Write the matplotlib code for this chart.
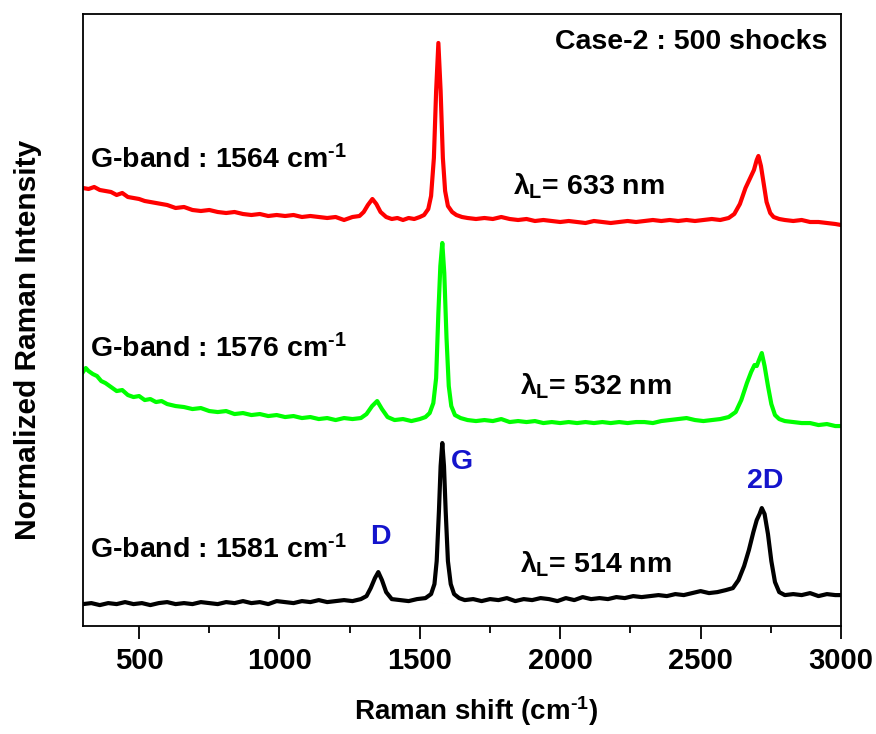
import matplotlib
matplotlib.use("Agg")
import matplotlib.pyplot as plt
from matplotlib.ticker import MultipleLocator

plt.rcParams['font.family'] = ['Liberation Sans', 'DejaVu Sans']
plt.rcParams['font.weight'] = 'bold'
plt.rcParams['mathtext.fontset'] = 'custom'
plt.rcParams['mathtext.rm'] = 'Liberation Sans:bold'
plt.rcParams['mathtext.it'] = 'Liberation Sans:bold'
plt.rcParams['mathtext.bf'] = 'Liberation Sans:bold'

# ------------------------------------------
# Spectra (normalized, a.u.)
# ------------------------------------------

# 633 nm (red)
shift_633 = [300, 320, 340, 360, 380, 400, 420, 440, 460, 480,
             500, 520, 540, 560, 580, 600, 630, 660, 690, 720,
             750, 780, 810, 840, 870, 900, 930, 960, 990, 1020,
             1050, 1080, 1110, 1140, 1170, 1200, 1230, 1260, 1285, 1300,
             1315, 1331, 1345, 1360, 1380, 1400, 1420, 1440, 1460, 1480,
             1500, 1515, 1530, 1540, 1550, 1558, 1566, 1574, 1582, 1590,
             1600, 1615, 1630, 1650, 1670, 1700, 1730, 1760, 1790, 1820,
             1850, 1880, 1910, 1940, 1970, 2000, 2030, 2060, 2090, 2120,
             2150, 2180, 2210, 2240, 2270, 2300, 2330, 2360, 2390, 2420,
             2450, 2480, 2510, 2540, 2570, 2600, 2620, 2640, 2660, 2675,
             2690, 2700, 2706, 2715, 2725, 2735, 2748, 2760, 2780, 2800,
             2830, 2860, 2890, 2920, 2950, 2980, 3000]
int_633 = [0.38, 0.37, 0.39, 0.36, 0.35, 0.34, 0.31, 0.33, 0.29, 0.28,
           0.27, 0.25, 0.24, 0.23, 0.22, 0.21, 0.18, 0.19, 0.16, 0.15,
           0.16, 0.14, 0.13, 0.14, 0.12, 0.11, 0.12, 0.10, 0.11, 0.10,
           0.11, 0.09, 0.10, 0.09, 0.08, 0.09, 0.06, 0.09, 0.10, 0.14,
           0.21, 0.27, 0.22, 0.14, 0.09, 0.07, 0.08, 0.06, 0.08, 0.07,
           0.09, 0.11, 0.17, 0.30, 0.68, 1.35, 1.83, 1.35, 0.68, 0.35,
           0.20, 0.14, 0.11, 0.09, 0.08, 0.07, 0.08, 0.07, 0.09, 0.07,
           0.06, 0.07, 0.05, 0.06, 0.05, 0.04, 0.05, 0.04, 0.03, 0.05,
           0.04, 0.03, 0.04, 0.05, 0.04, 0.05, 0.06, 0.05, 0.06, 0.05,
           0.06, 0.05, 0.06, 0.07, 0.06, 0.08, 0.12, 0.22, 0.38, 0.47,
           0.56, 0.66, 0.70, 0.60, 0.42, 0.24, 0.13, 0.09, 0.07, 0.06,
           0.05, 0.06, 0.04, 0.04, 0.03, 0.02, 0.01]

# 532 nm (green)
shift_532 = [300, 310, 320, 335, 350, 365, 380, 400, 420, 440,
             460, 480, 500, 520, 540, 560, 580, 600, 630, 660,
             690, 720, 750, 780, 810, 840, 870, 900, 930, 960,
             990, 1020, 1050, 1080, 1110, 1140, 1170, 1200, 1230, 1260,
             1290, 1310, 1330, 1348, 1365, 1385, 1410, 1440, 1470, 1500,
             1520, 1535, 1548, 1558, 1566, 1573, 1580, 1587, 1595, 1603,
             1612, 1625, 1645, 1670, 1700, 1730, 1760, 1790, 1820, 1850,
             1880, 1910, 1940, 1970, 2000, 2030, 2060, 2090, 2120, 2150,
             2180, 2210, 2240, 2270, 2300, 2330, 2360, 2390, 2420, 2450,
             2480, 2510, 2540, 2570, 2600, 2625, 2645, 2665, 2680, 2692,
             2700, 2708, 2718, 2728, 2740, 2752, 2765, 2780, 2800, 2830,
             2860, 2890, 2920, 2950, 2980, 3000]
int_532 = [0.56, 0.60, 0.57, 0.54, 0.52, 0.47, 0.45, 0.41, 0.37, 0.38,
           0.33, 0.31, 0.32, 0.28, 0.29, 0.26, 0.27, 0.24, 0.22, 0.21,
           0.19, 0.20, 0.17, 0.16, 0.17, 0.14, 0.15, 0.13, 0.14, 0.12,
           0.13, 0.11, 0.12, 0.10, 0.11, 0.09, 0.10, 0.08, 0.10, 0.09,
           0.10, 0.14, 0.22, 0.27, 0.19, 0.11, 0.08, 0.09, 0.07, 0.09,
           0.11, 0.15, 0.25, 0.50, 1.15, 1.62, 1.85, 1.55, 0.90, 0.42,
           0.22, 0.13, 0.10, 0.08, 0.07, 0.08, 0.07, 0.09, 0.06, 0.07,
           0.06, 0.07, 0.05, 0.06, 0.05, 0.06, 0.05, 0.06, 0.05, 0.06,
           0.05, 0.06, 0.05, 0.06, 0.06, 0.05, 0.07, 0.08, 0.09, 0.10,
           0.08, 0.07, 0.08, 0.09, 0.11, 0.16, 0.28, 0.45, 0.56, 0.63,
           0.62, 0.68, 0.75, 0.62, 0.42, 0.24, 0.13, 0.09, 0.07, 0.06,
           0.05, 0.05, 0.03, 0.04, 0.02, 0.02]

# 514 nm (black)
shift_514 = [300, 330, 360, 390, 420, 450, 480, 510, 540, 570,
             600, 630, 660, 690, 720, 750, 780, 810, 840, 870,
             900, 930, 960, 990, 1020, 1050, 1080, 1110, 1140, 1170,
             1200, 1230, 1260, 1290, 1310, 1325, 1340, 1352, 1365, 1380,
             1400, 1430, 1460, 1490, 1520, 1540, 1552, 1560, 1568, 1574,
             1580, 1586, 1592, 1600, 1610, 1622, 1640, 1660, 1690, 1720,
             1750, 1780, 1810, 1840, 1870, 1900, 1930, 1960, 1990, 2020,
             2050, 2080, 2110, 2140, 2170, 2200, 2230, 2260, 2290, 2320,
             2350, 2380, 2410, 2440, 2470, 2500, 2530, 2560, 2590, 2615,
             2635, 2655, 2672, 2688, 2700, 2710, 2718, 2728, 2740, 2752,
             2765, 2780, 2800, 2830, 2860, 2890, 2920, 2950, 2980, 3000]
int_514 = [0.02, 0.03, 0.01, 0.03, 0.02, 0.04, 0.02, 0.03, 0.01, 0.03,
           0.04, 0.02, 0.03, 0.02, 0.04, 0.03, 0.02, 0.04, 0.03, 0.05,
           0.03, 0.04, 0.02, 0.05, 0.04, 0.03, 0.05, 0.04, 0.06, 0.04,
           0.05, 0.06, 0.05, 0.07, 0.10, 0.18, 0.28, 0.34, 0.26, 0.14,
           0.07, 0.06, 0.05, 0.07, 0.08, 0.12, 0.22, 0.45, 0.95, 1.40,
           1.63, 1.40, 0.95, 0.45, 0.22, 0.12, 0.08, 0.06, 0.07, 0.05,
           0.07, 0.06, 0.08, 0.05, 0.07, 0.06, 0.08, 0.07, 0.05, 0.08,
           0.06, 0.09, 0.07, 0.08, 0.07, 0.09, 0.08, 0.10, 0.09, 0.10,
           0.11, 0.10, 0.12, 0.11, 0.13, 0.15, 0.13, 0.14, 0.16, 0.18,
           0.26, 0.40, 0.56, 0.74, 0.86, 0.92, 0.98, 0.92, 0.72, 0.45,
           0.24, 0.14, 0.11, 0.12, 0.11, 0.13, 0.10, 0.12, 0.11, 0.11]

# vertical stacking offsets
offset_633 = 4.00
offset_532 = 1.98
offset_514 = 0.20

g_band_labels = ['G-band : 1564 cm$^{\\text{-}1}$', 'G-band : 1576 cm$^{\\text{-}1}$',
                 'G-band : 1581 cm$^{\\text{-}1}$']
laser_labels = ['$\\lambda_{L}$= 633 nm', '$\\lambda_{L}$= 532 nm', '$\\lambda_{L}$= 514 nm']

#------------------------------------------
# Plot
#------------------------------------------

fig = plt.figure(figsize=(8.76, 7.34), dpi=100)
ax = fig.add_axes([0.0947, 0.147, 0.8653, 0.834])

ax.plot(shift_633, [v + offset_633 for v in int_633], color='#ff0000', lw=3)
ax.plot(shift_532, [v + offset_532 for v in int_532], color='#00ff00', lw=3)
ax.plot(shift_514, [v + offset_514 for v in int_514], color='black', lw=3)

ax.set_xlim(300, 3000)
ax.set_ylim(0, 6.12)

ax.xaxis.set_major_locator(MultipleLocator(500))
ax.xaxis.set_minor_locator(MultipleLocator(250))
ax.tick_params(axis='x', which='major', direction='out', length=9, width=1.3,
               labelsize=21, pad=6)
ax.tick_params(axis='x', which='minor', direction='out', length=5, width=1.3)
ax.tick_params(axis='y', which='both', left=False, labelleft=False)
for lbl in ax.get_xticklabels():
    lbl.set_fontweight('bold')
for sp in ax.spines.values():
    sp.set_linewidth(1.3)

ax.set_xlabel('Raman shift (cm$^{\\text{-}1}$)', fontsize=20, fontweight='bold')
ax.xaxis.set_label_coords(0.518, -0.112)
ax.set_ylabel('Normalized Raman Intensity', fontsize=21.5, fontweight='bold')
ax.yaxis.set_label_coords(-0.054, 0.467)

# annotations
txt = dict(fontsize=20.5, fontweight='bold', va='baseline')
ax.text(2951, 5.77, 'Case-2 : 500 shocks', ha='right', **txt)

ax.text(325, 4.58, g_band_labels[0], ha='left', **txt)
ax.text(325, 2.69, g_band_labels[1], ha='left', **txt)
ax.text(325, 0.68, g_band_labels[2], ha='left', **txt)

ax.text(1832, 4.31, laser_labels[0], ha='left', **txt)
ax.text(1857, 2.32, laser_labels[1], ha='left', **txt)
ax.text(1857, 0.54, laser_labels[2], ha='left', **txt)

blue = '#1414cc'
ax.text(1358, 0.82, 'D', ha='center', color=blue, **txt)
ax.text(1650, 1.57, 'G', ha='center', color=blue, **txt)
ax.text(2730, 1.38, '2D', ha='center', color=blue, **txt)

fig.savefig('out.png', dpi=100)
